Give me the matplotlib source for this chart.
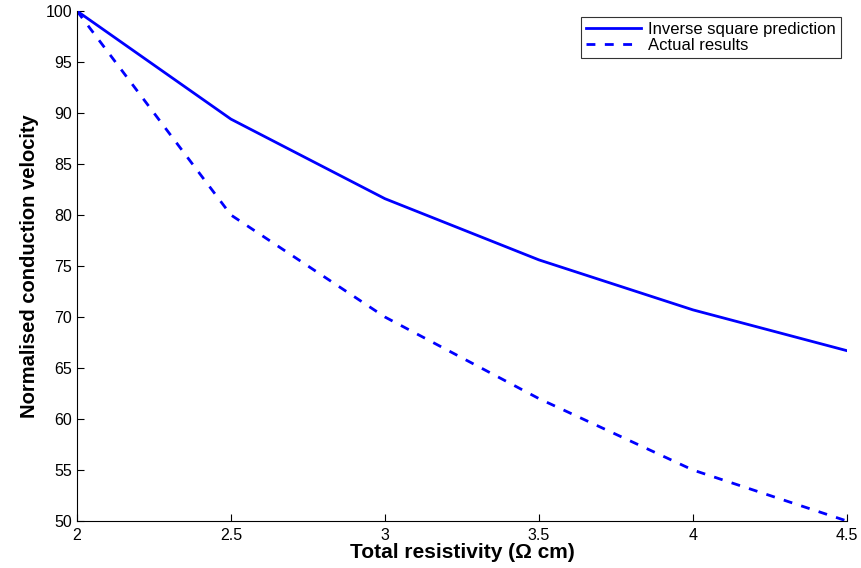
import matplotlib
matplotlib.use('Agg')
from matplotlib import pyplot as plt

plt.rcParams['font.family'] = ['Liberation Sans', 'DejaVu Sans']

resistivity = [2, 2.5, 3, 3.5, 4, 4.5]
inverse_square = [100, 89.4, 81.6, 75.6, 70.7, 66.7]
actual = [100, 80, 70, 62, 55, 50]

fig = plt.figure(figsize=(8.61, 5.68), dpi=100)
ax = fig.add_axes([0.0894, 0.0827, 0.8943, 0.8979])

ax.plot(resistivity, inverse_square, color='#0000ff', lw=2, label='Inverse square prediction')
ax.plot(resistivity, actual, color='#0000ff', lw=2, ls=(0, (3.2, 3.4)), label='Actual results')

ax.set_xlim(2, 4.5)
ax.set_ylim(50, 100)
ax.set_xticks([2, 2.5, 3, 3.5, 4, 4.5])
ax.set_xticklabels(['2', '2.5', '3', '3.5', '4', '4.5'])
ax.set_yticks(range(50, 101, 5))

ax.spines['top'].set_visible(False)
ax.spines['right'].set_visible(False)
ax.tick_params(direction='in', labelsize=11.5, length=5, width=0.8)
ax.tick_params(axis='x', pad=5)

ax.set_xlabel('Total resistivity (\u03a9 cm)', fontsize=15, fontweight='bold', labelpad=0)
ax.set_ylabel('Normalised conduction velocity', fontsize=14.5, fontweight='bold', labelpad=5)

leg = ax.legend(loc='upper right', bbox_to_anchor=(0.9922, 0.988), fontsize=12, frameon=True,
                fancybox=False, edgecolor='black', handlelength=3.3, handletextpad=0.45,
                borderpad=0.3, labelspacing=0.05, borderaxespad=0)
leg.get_frame().set_linewidth(0.8)

fig.savefig('out.png', dpi=100)
